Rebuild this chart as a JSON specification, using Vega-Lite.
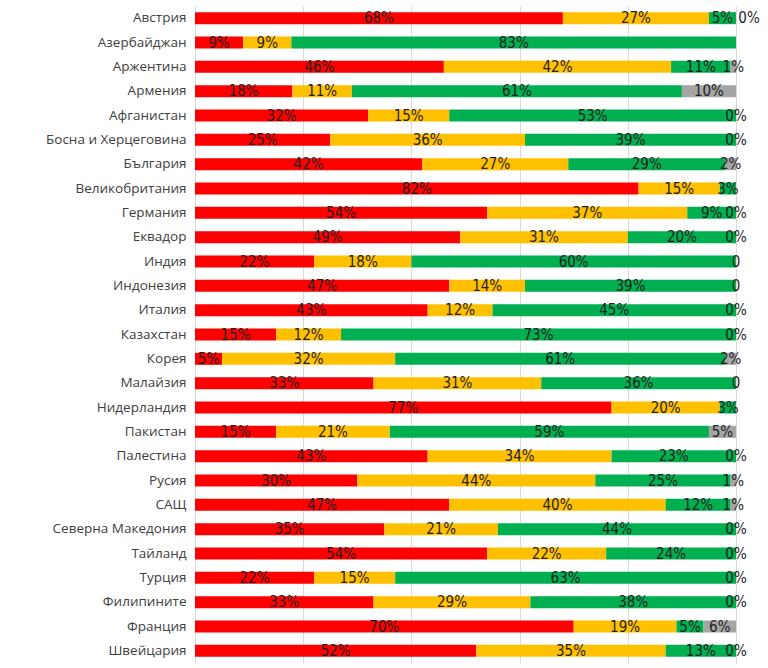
{
  "$schema": "https://vega.github.io/schema/vega-lite/v6.json",
  "width": 541,
  "height": 657,
  "autosize": "none",
  "padding": {"left": 195, "top": 6, "right": 32, "bottom": 5},
  "background": "white",
  "config": {"view": {"stroke": null}},
  "data": {"values": [
    {"c":"Австрия","k":"a","v":68,"t":"68%"},{"c":"Австрия","k":"b","v":27,"t":"27%"},{"c":"Австрия","k":"c","v":5,"t":"5%"},{"c":"Австрия","k":"d","v":0,"t":"0%"},
    {"c":"Азербайджан","k":"a","v":9,"t":"9%"},{"c":"Азербайджан","k":"b","v":9,"t":"9%"},{"c":"Азербайджан","k":"c","v":83,"t":"83%"},
    {"c":"Аржентина","k":"a","v":46,"t":"46%"},{"c":"Аржентина","k":"b","v":42,"t":"42%"},{"c":"Аржентина","k":"c","v":11,"t":"11%"},{"c":"Аржентина","k":"d","v":1,"t":"1%"},
    {"c":"Армения","k":"a","v":18,"t":"18%"},{"c":"Армения","k":"b","v":11,"t":"11%"},{"c":"Армения","k":"c","v":61,"t":"61%"},{"c":"Армения","k":"d","v":10,"t":"10%"},
    {"c":"Афганистан","k":"a","v":32,"t":"32%"},{"c":"Афганистан","k":"b","v":15,"t":"15%"},{"c":"Афганистан","k":"c","v":53,"t":"53%"},{"c":"Афганистан","k":"d","v":0,"t":"0%"},
    {"c":"Босна и Херцеговина","k":"a","v":25,"t":"25%"},{"c":"Босна и Херцеговина","k":"b","v":36,"t":"36%"},{"c":"Босна и Херцеговина","k":"c","v":39,"t":"39%"},{"c":"Босна и Херцеговина","k":"d","v":0,"t":"0%"},
    {"c":"България","k":"a","v":42,"t":"42%"},{"c":"България","k":"b","v":27,"t":"27%"},{"c":"България","k":"c","v":29,"t":"29%"},{"c":"България","k":"d","v":2,"t":"2%"},
    {"c":"Великобритания","k":"a","v":82,"t":"82%"},{"c":"Великобритания","k":"b","v":15,"t":"15%"},{"c":"Великобритания","k":"c","v":3,"t":"3%"},
    {"c":"Германия","k":"a","v":54,"t":"54%"},{"c":"Германия","k":"b","v":37,"t":"37%"},{"c":"Германия","k":"c","v":9,"t":"9%"},{"c":"Германия","k":"d","v":0,"t":"0%"},
    {"c":"Еквадор","k":"a","v":49,"t":"49%"},{"c":"Еквадор","k":"b","v":31,"t":"31%"},{"c":"Еквадор","k":"c","v":20,"t":"20%"},{"c":"Еквадор","k":"d","v":0,"t":"0%"},
    {"c":"Индия","k":"a","v":22,"t":"22%"},{"c":"Индия","k":"b","v":18,"t":"18%"},{"c":"Индия","k":"c","v":60,"t":"60%"},{"c":"Индия","k":"d","v":0,"t":"0"},
    {"c":"Индонезия","k":"a","v":47,"t":"47%"},{"c":"Индонезия","k":"b","v":14,"t":"14%"},{"c":"Индонезия","k":"c","v":39,"t":"39%"},{"c":"Индонезия","k":"d","v":0,"t":"0"},
    {"c":"Италия","k":"a","v":43,"t":"43%"},{"c":"Италия","k":"b","v":12,"t":"12%"},{"c":"Италия","k":"c","v":45,"t":"45%"},{"c":"Италия","k":"d","v":0,"t":"0%"},
    {"c":"Казахстан","k":"a","v":15,"t":"15%"},{"c":"Казахстан","k":"b","v":12,"t":"12%"},{"c":"Казахстан","k":"c","v":73,"t":"73%"},{"c":"Казахстан","k":"d","v":0,"t":"0%"},
    {"c":"Корея","k":"a","v":5,"t":"5%"},{"c":"Корея","k":"b","v":32,"t":"32%"},{"c":"Корея","k":"c","v":61,"t":"61%"},{"c":"Корея","k":"d","v":2,"t":"2%"},
    {"c":"Малайзия","k":"a","v":33,"t":"33%"},{"c":"Малайзия","k":"b","v":31,"t":"31%"},{"c":"Малайзия","k":"c","v":36,"t":"36%"},{"c":"Малайзия","k":"d","v":0,"t":"0"},
    {"c":"Нидерландия","k":"a","v":77,"t":"77%"},{"c":"Нидерландия","k":"b","v":20,"t":"20%"},{"c":"Нидерландия","k":"c","v":3,"t":"3%"},
    {"c":"Пакистан","k":"a","v":15,"t":"15%"},{"c":"Пакистан","k":"b","v":21,"t":"21%"},{"c":"Пакистан","k":"c","v":59,"t":"59%"},{"c":"Пакистан","k":"d","v":5,"t":"5%"},
    {"c":"Палестина","k":"a","v":43,"t":"43%"},{"c":"Палестина","k":"b","v":34,"t":"34%"},{"c":"Палестина","k":"c","v":23,"t":"23%"},{"c":"Палестина","k":"d","v":0,"t":"0%"},
    {"c":"Русия","k":"a","v":30,"t":"30%"},{"c":"Русия","k":"b","v":44,"t":"44%"},{"c":"Русия","k":"c","v":25,"t":"25%"},{"c":"Русия","k":"d","v":1,"t":"1%"},
    {"c":"САЩ","k":"a","v":47,"t":"47%"},{"c":"САЩ","k":"b","v":40,"t":"40%"},{"c":"САЩ","k":"c","v":12,"t":"12%"},{"c":"САЩ","k":"d","v":1,"t":"1%"},
    {"c":"Северна Македония","k":"a","v":35,"t":"35%"},{"c":"Северна Македония","k":"b","v":21,"t":"21%"},{"c":"Северна Македония","k":"c","v":44,"t":"44%"},{"c":"Северна Македония","k":"d","v":0,"t":"0%"},
    {"c":"Тайланд","k":"a","v":54,"t":"54%"},{"c":"Тайланд","k":"b","v":22,"t":"22%"},{"c":"Тайланд","k":"c","v":24,"t":"24%"},{"c":"Тайланд","k":"d","v":0,"t":"0%"},
    {"c":"Турция","k":"a","v":22,"t":"22%"},{"c":"Турция","k":"b","v":15,"t":"15%"},{"c":"Турция","k":"c","v":63,"t":"63%"},{"c":"Турция","k":"d","v":0,"t":"0%"},
    {"c":"Филипините","k":"a","v":33,"t":"33%"},{"c":"Филипините","k":"b","v":29,"t":"29%"},{"c":"Филипините","k":"c","v":38,"t":"38%"},{"c":"Филипините","k":"d","v":0,"t":"0%"},
    {"c":"Франция","k":"a","v":70,"t":"70%"},{"c":"Франция","k":"b","v":19,"t":"19%"},{"c":"Франция","k":"c","v":5,"t":"5%"},{"c":"Франция","k":"d","v":6,"t":"6%"},
    {"c":"Швейцария","k":"a","v":52,"t":"52%"},{"c":"Швейцария","k":"b","v":35,"t":"35%"},{"c":"Швейцария","k":"c","v":13,"t":"13%"},{"c":"Швейцария","k":"d","v":0,"t":"0%"}
  ]},
  "encoding": {
    "y": {
      "field": "c", "type": "nominal", "sort": null,
      "scale": {"paddingInner": 0.5, "paddingOuter": 0.25},
      "axis": {"title": null, "ticks": false, "domain": false, "labelPadding": 9, "labelFont": "Open Sans", "labelFontSize": 13.5, "labelColor": "#404040", "labelLimit": 200}
    }
  },
  "layer": [
    {
      "mark": {"type": "bar", "size": 12},
      "encoding": {
        "x": {
          "field": "v", "type": "quantitative", "stack": "normalize",
          "scale": {"domain": [0, 1], "nice": false},
          "axis": {"title": null, "labels": false, "ticks": false, "domain": false, "values": [0, 0.2, 0.4, 0.6, 0.8, 1], "gridColor": "#d9d9d9", "gridWidth": 1}
        },
        "color": {
          "field": "k", "type": "nominal", "legend": null,
          "scale": {"domain": ["a", "b", "c", "d"], "range": ["#ff0000", "#ffc000", "#00b050", "#a5a5a5"]}
        },
        "order": {"field": "k"}
      }
    },
    {
      "mark": {"type": "text", "font": "'DejaVu Sans Condensed', 'Liberation Sans', sans-serif", "fontSize": 15, "color": "#1f1f1f", "baseline": "middle", "align": "center"},
      "encoding": {
        "x": {"field": "v", "type": "quantitative", "stack": "normalize", "bandPosition": 0.5},
        "detail": {"field": "k"},
        "order": {"field": "k"},
        "text": {"condition": {"test": "!(datum.c === 'Австрия' && datum.k === 'd')", "field": "t"}, "value": ""}
      }
    },
    {
      "mark": {"type": "text", "font": "'DejaVu Sans Condensed', 'Liberation Sans', sans-serif", "fontSize": 15, "color": "#1f1f1f", "baseline": "middle", "align": "center", "dx": 13},
      "encoding": {
        "x": {"field": "v", "type": "quantitative", "stack": "normalize", "bandPosition": 0.5},
        "detail": {"field": "k"},
        "order": {"field": "k"},
        "text": {"condition": {"test": "datum.c === 'Австрия' && datum.k === 'd'", "field": "t"}, "value": ""}
      }
    }
  ]
}
